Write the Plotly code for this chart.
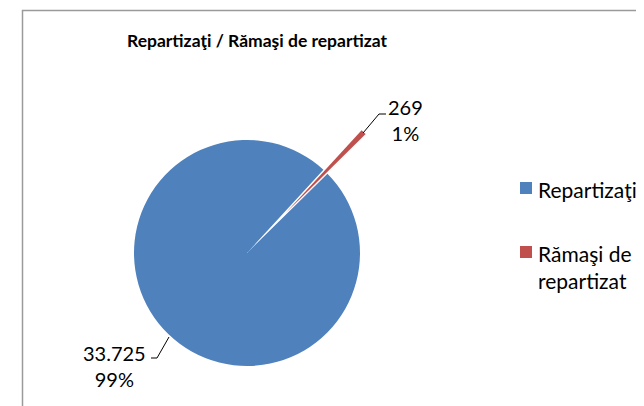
import plotly.graph_objects as go

# ---- data ----
categories = ["Repartizaţi", "Rămaşi de repartizat"]
legend_labels = ["Repartizaţi", "Rămaşi de<br>repartizat"]
values = [33725, 269]
colors = ["#4F81BD", "#C0504D"]
title_text = "Repartizaţi / Rămaşi de repartizat"

W, H = 644, 406
OFF = 8  # page body margin
FONT = "Lato"
TRANSP = "rgba(0,0,0,0)"


def px(x):
    return (x - OFF) / W


def py(y):
    return 1 - (y - OFF) / H


def fmt_val(v):
    return f"{v:,}".replace(",", ".")


total = sum(values)

# pie geometry (pixels, page coords)
cx, cy, r = 247, 253, 113
ex_dx, ex_dy = 38.2, -39.6  # explosion offset of the small slice
rotation = 45.4


def dom(cx_, cy_):
    return dict(x=[px(cx_ - r), px(cx_ + r)], y=[py(cy_ + r), py(cy_ - r)])


fig = go.Figure()
fig.add_trace(go.Pie(
    labels=categories, values=values, sort=False, direction="clockwise",
    rotation=rotation, textinfo="none", showlegend=False,
    marker=dict(colors=[colors[0], TRANSP], line=dict(width=0)),
    domain=dom(cx, cy),
))
fig.add_trace(go.Pie(
    labels=categories, values=values, sort=False, direction="clockwise",
    rotation=rotation, textinfo="none", showlegend=False,
    marker=dict(colors=[TRANSP, colors[1]], line=dict(width=0)),
    domain=dom(cx + ex_dx, cy + ex_dy),
))

annotations = []
# data labels
label_pos = [(114, 366), (405, 120)]
for v, (lx, ly) in zip(values, label_pos):
    annotations.append(dict(
        text=f"{fmt_val(v)}<br>{round(100 * v / total)}%",
        x=px(lx), y=py(ly), xref="paper", yref="paper",
        xanchor="center", yanchor="middle", showarrow=False, align="center",
        font=dict(family=FONT, size=20, color="#000000"),
    ))

# title
annotations.append(dict(
    text=f"<b>{title_text}</b>", x=px(257), y=py(40), xref="paper", yref="paper",
    xanchor="center", yanchor="middle", showarrow=False,
    font=dict(family=FONT, size=17.5, color="#000000"),
))

shapes = []
# legend
leg_y = [188, 252]
for lab, col, ly in zip(legend_labels, colors, leg_y):
    shapes.append(dict(type="rect", xref="paper", yref="paper",
                       x0=px(520), x1=px(532), y0=py(ly + 6), y1=py(ly - 6),
                       fillcolor=col, line=dict(width=0)))
    annotations.append(dict(
        text=lab, x=px(536), y=py(ly - 13), xref="paper", yref="paper",
        xanchor="left", yanchor="top", showarrow=False, align="left",
        font=dict(family=FONT, size=21, color="#000000"),
    ))

# leader lines
leaders = [
    [(169, 337), (157, 358), (151, 358)],
    [(363, 133), (379, 114), (386, 114)],
]
for pts in leaders:
    path = "M " + " L ".join(f"{px(x)},{py(y)}" for x, y in pts)
    shapes.append(dict(type="path", xref="paper", yref="paper", path=path,
                       line=dict(color="#000000", width=1)))

# chart border
shapes.append(dict(type="rect", xref="paper", yref="paper",
                   x0=px(22.5), x1=px(700), y0=py(460), y1=py(10.5),
                   line=dict(color="#9a9a9a", width=1.5), fillcolor=TRANSP))

fig.update_layout(
    width=W, height=H, margin=dict(l=0, r=0, t=0, b=0),
    paper_bgcolor="#ffffff", plot_bgcolor="#ffffff",
    annotations=annotations, shapes=shapes, showlegend=False,
)

fig.write_html("out.html")
